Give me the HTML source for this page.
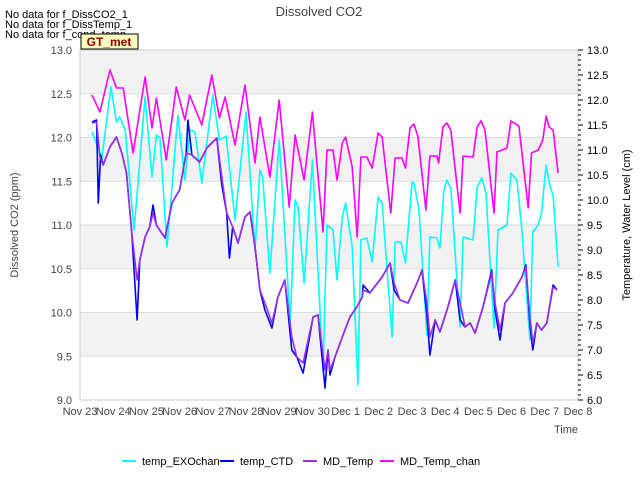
<!DOCTYPE html>
<html><head><meta charset="utf-8"><style>
body{margin:0;background:#fff;}
svg{display:block;font-family:"Liberation Sans",sans-serif;}
</style></head><body>
<svg id="chart" width="640" height="480" viewBox="0 0 640 480">
<rect x="0" y="0" width="640" height="480" fill="#fff"/>
<g id="bands"></g>
<g id="grid"></g>
<rect x="80" y="50" width="498" height="350" fill="none" stroke="#ccc" stroke-width="1"/>
<g id="series"></g>
<g id="axes"></g>
<text x="319" y="16" text-anchor="middle" font-size="13" fill="#444">Dissolved CO2</text>
<text x="5" y="18" font-size="11" fill="#000">No data for f_DissCO2_1</text>
<text x="5" y="28" font-size="11" fill="#000">No data for f_DissTemp_1</text>
<text x="5" y="38" font-size="11" fill="#000">No data for f_cond_temp</text>
<g>
<rect x="81" y="34" width="57" height="15" fill="#ffffc0" stroke="#000" stroke-width="1"/>
<text x="109" y="46" text-anchor="middle" font-size="12" font-weight="bold" fill="#8b0000">GT_met</text>
</g>
<text transform="translate(18,225) rotate(-90)" text-anchor="middle" font-size="11" fill="#444">Dissolved CO2 (ppm)</text>
<text transform="translate(630,225) rotate(-90)" text-anchor="middle" font-size="11" fill="#000">Temperature, Water Level (cm)</text>
<text x="566" y="433" text-anchor="middle" font-size="11" fill="#444">Time</text>
<g id="legend"></g>
</svg>
<script>
const xTickLabels=["Nov 23","Nov 24","Nov 25","Nov 26","Nov 27","Nov 28","Nov 29","Nov 30","Dec 1","Dec 2","Dec 3","Dec 4","Dec 5","Dec 6","Dec 7","Dec 8"];
const leftTicks=[9.0,9.5,10.0,10.5,11.0,11.5,12.0,12.5,13.0];
const rightTicks=[6.0,6.5,7.0,7.5,8.0,8.5,9.0,9.5,10.0,10.5,11.0,11.5,12.0,12.5,13.0];
const chanT=[0.36,0.6,0.9,1.1,1.3,1.6,1.96,2.17,2.3,2.6,2.9,3.16,3.3,3.67,3.97,4.2,4.37,4.67,4.97,5.27,5.42,5.72,6.0,6.3,6.48,6.75,7.0,7.32,7.44,7.62,7.74,7.9,8.0,8.2,8.35,8.46,8.64,8.8,8.98,9.1,9.36,9.49,9.7,9.8,9.94,10.06,10.18,10.42,10.54,10.75,10.8,10.93,11.05,11.17,11.45,11.54,11.84,11.96,12.08,12.2,12.47,12.56,12.86,12.98,13.22,13.5,13.6,13.8,13.94,14.04,14.13,14.25,14.4];
const chanV=[12.1,11.76,12.6,12.24,12.24,10.94,12.46,11.44,12.04,10.8,12.26,11.6,12.1,11.5,12.5,11.64,12.06,11.1,12.3,10.74,11.66,10.46,12.0,9.86,11.3,10.4,11.76,9.36,11.0,11.0,10.4,11.14,11.26,10.66,9.26,10.86,10.86,10.64,11.34,11.26,9.74,10.84,10.84,10.64,11.44,11.52,11.26,9.8,10.88,10.88,10.74,11.46,11.54,11.4,9.74,10.88,10.86,11.46,11.58,11.4,9.74,10.96,11.04,11.58,11.48,9.84,10.94,11.0,11.2,11.68,11.46,11.4,10.54];
const exoT=[0.36,0.66,0.93,1.1,1.2,1.36,1.63,1.96,2.17,2.3,2.41,2.62,2.95,3.16,3.31,3.46,3.67,4.0,4.2,4.4,4.67,5.0,5.27,5.42,5.5,5.72,6.0,6.33,6.48,6.57,6.75,7.0,7.32,7.44,7.62,7.74,7.9,8.0,8.2,8.37,8.46,8.64,8.8,8.98,9.1,9.4,9.49,9.67,9.8,10.0,10.06,10.21,10.45,10.54,10.75,10.84,10.96,11.05,11.17,11.45,11.54,11.84,11.96,12.1,12.23,12.47,12.59,12.86,12.98,13.16,13.31,13.55,13.64,13.8,13.9,14.04,14.16,14.25,14.4];
const exoV=[11.36,10.84,12.26,11.56,11.66,11.4,9.4,12.06,10.46,11.3,11.24,9.06,11.7,10.4,11.4,11.36,10.34,12.1,11.2,11.28,9.6,11.76,9.0,10.6,10.46,8.54,11.2,7.54,10.0,9.86,8.34,10.8,6.6,9.5,9.4,8.4,9.66,9.94,9.06,6.3,9.2,9.24,8.76,10.06,9.94,7.26,9.16,9.16,8.74,10.36,10.34,9.8,7.3,9.26,9.24,9.04,10.2,10.4,10.24,7.46,9.26,9.2,10.26,10.44,10.14,7.44,9.4,9.5,10.54,10.4,9.4,7.2,9.36,9.5,9.74,10.7,10.26,10.1,8.66];
const mdT=[0.36,0.5,0.6,0.7,0.9,1.1,1.26,1.4,1.56,1.72,1.8,1.96,2.1,2.2,2.3,2.56,2.77,3.0,3.2,3.37,3.6,3.82,4.12,4.27,4.42,4.6,4.76,4.97,5.12,5.27,5.42,5.57,5.78,5.96,6.17,6.38,6.53,6.72,7.02,7.17,7.38,7.47,7.53,7.68,7.9,8.13,8.34,8.5,8.53,8.73,9.1,9.34,9.46,9.64,9.88,10.15,10.3,10.45,10.54,10.7,10.84,11.08,11.3,11.45,11.6,11.75,11.9,12.14,12.4,12.5,12.65,12.8,13.04,13.31,13.43,13.55,13.64,13.76,13.9,14.06,14.25,14.37];
const mdV=[11.54,11.56,10.86,10.7,11.06,11.26,10.94,10.54,9.34,8.4,8.8,9.26,9.46,9.74,9.5,9.24,9.94,10.2,10.94,10.9,10.76,11.04,11.24,10.46,9.74,9.46,9.14,9.66,9.76,9.06,8.2,7.94,7.54,8.06,8.4,7.26,6.86,6.74,7.66,7.7,6.6,7.0,6.6,6.86,7.26,7.66,7.86,8.06,8.2,8.14,8.46,8.74,8.34,8.0,7.94,8.34,8.6,7.94,7.26,7.6,7.36,7.86,8.4,7.94,7.46,7.54,7.34,7.86,8.54,7.94,7.4,7.94,8.14,8.46,8.66,7.66,7.14,7.54,7.4,7.54,8.26,8.2];
const ctdT=[0.36,0.5,0.55,0.62,0.7,0.9,1.1,1.26,1.4,1.56,1.72,1.8,1.96,2.1,2.2,2.3,2.56,2.77,3.0,3.2,3.25,3.37,3.6,3.82,4.12,4.27,4.42,4.5,4.6,4.76,4.97,5.12,5.27,5.42,5.57,5.78,5.96,6.17,6.38,6.53,6.72,7.02,7.17,7.38,7.47,7.53,7.68,7.9,8.13,8.34,8.5,8.53,8.73,9.1,9.34,9.46,9.64,9.88,10.15,10.3,10.45,10.54,10.7,10.84,11.08,11.3,11.45,11.6,11.75,11.9,12.14,12.4,12.5,12.65,12.8,13.04,13.31,13.43,13.55,13.64,13.76,13.9,14.06,14.25,14.37];
const ctdV=[11.56,11.6,9.94,10.9,10.7,11.06,11.26,10.94,10.54,9.34,7.6,8.8,9.26,9.46,9.9,9.5,9.24,9.94,10.2,10.94,11.6,10.9,10.76,11.04,11.24,10.3,9.74,8.84,9.46,9.14,9.66,9.76,9.06,8.2,7.8,7.44,8.06,8.4,7.0,6.86,6.54,7.66,7.7,6.24,7.0,6.5,6.86,7.26,7.66,7.86,8.06,8.3,8.14,8.46,8.74,8.2,8.0,7.94,8.34,8.6,7.7,6.9,7.6,7.36,7.86,8.4,7.6,7.46,7.54,7.34,7.86,8.6,7.8,7.2,7.94,8.14,8.46,8.7,7.5,7.0,7.54,7.4,7.54,8.3,8.2];

const NS="http://www.w3.org/2000/svg";
function xScale(d){return 80+d*33.2;}
function yScale(v){return 400-(v-6)*50;}
function yLeft(v){return 400-(v-9)*87.5;}
function mk(tag,attrs,parent){const e=document.createElementNS(NS,tag);for(const k in attrs)e.setAttribute(k,attrs[k]);parent.appendChild(e);return e;}
const bands=document.getElementById('bands'),grid=document.getElementById('grid'),axes=document.getElementById('axes'),series=document.getElementById('series'),legend=document.getElementById('legend');
[[12.5,13],[11.5,12],[10.5,11],[9.5,10]].forEach(b=>{
  const r=mk('rect',{x:80,y:yLeft(b[1]),width:498,height:yLeft(b[0])-yLeft(b[1]),fill:'#f2f2f2'},bands);
  
  
});
leftTicks.forEach(v=>{
  const y=yLeft(v);
  const l=mk('line',{x1:80,x2:578,y1:y,y2:y,stroke:'#dcdcdc','stroke-width':1},grid);
  
  
  const t=mk('text',{x:72,y:y+4,'text-anchor':'end','font-size':11,fill:'#444'},axes);
  t.textContent=v.toFixed(1);
  
  
});
rightTicks.forEach(v=>{
  const y=yScale(v);
  const t=mk('text',{x:587,y:y+4,'font-size':11,fill:'#000'},axes);
  t.textContent=v.toFixed(1);
  
  
});
for(let i=0;i<=70;i++){
  const y=400-i*5;
  const tk=mk('line',{x1:578,x2:i%5==0?583:581,y1:y,y2:y,stroke:'#000','stroke-width':1},axes);
  
  
}
xTickLabels.forEach((s,i)=>{
  const x=xScale(i);
  const t=mk('text',{x:x,y:415,'text-anchor':'middle','font-size':11,fill:'#444'},axes);
  t.textContent=s;
  
  
});
function drawLine(ts,vs,color,name){
  const d=ts.map((t,i)=>(i?'L':'M')+xScale(t).toFixed(1)+','+yScale(vs[i]).toFixed(1)).join(' ');
  const p=mk('path',{d:d,fill:'none',stroke:color,'stroke-width':1.6,'stroke-linejoin':'round'},series);
  
  
}
drawLine(exoT,exoV,'#00ffff','series-temp-exochan');
drawLine(ctdT,ctdV,'#0000ee','series-temp-ctd');
drawLine(mdT,mdV,'#9a2ee6','series-md-temp');
drawLine(chanT,chanV,'#ff00ff','series-md-temp-chan');
const legNames=["temp_EXOchan","temp_CTD","MD_Temp","MD_Temp_chan"];
const legColors=['#00ffff','#0000ee','#9a2ee6','#ff00ff'];
const legX=[122,220,303,380];
legNames.forEach((n,i)=>{
  const g=mk('g',{},legend);
  
  
  mk('line',{x1:legX[i],x2:legX[i]+14,y1:461,y2:461,stroke:legColors[i],'stroke-width':2},g);
  const t=mk('text',{x:legX[i]+20,y:465,'font-size':11,fill:'#000'},g);
  t.textContent=n;
});
</script>
</body></html>
